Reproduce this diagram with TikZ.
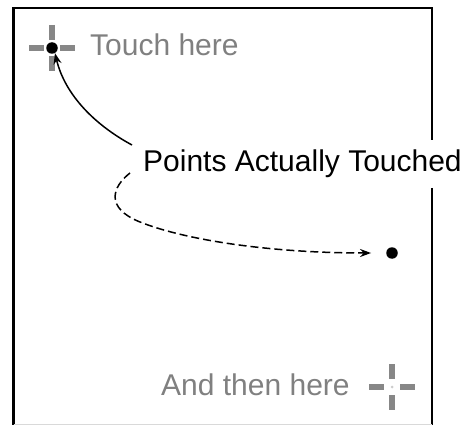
\documentclass[tikz,border=0pt]{standalone}
\usepackage{fontspec}
\setmainfont{Liberation Sans}
\usetikzlibrary{arrows.meta}
\definecolor{crossgray}{RGB}{135,135,135}
\definecolor{labelgray}{RGB}{128,128,128}
\begin{document}
\begin{tikzpicture}[x=1pt,y=-1pt,
  frame/.style={line width=2.6pt,black},
  arm/.style={line width=6pt,crossgray},
  lbl/.style={anchor=base west,inner sep=0pt,font=\fontsize{30}{36}\selectfont},
  dot/.style={circle,fill=black,inner sep=0pt,minimum size=11.5pt},
  tip/.style={-{Stealth[length=11pt,width=8pt]},line width=1.5pt}]
\useasboundingbox (0,0) rectangle (469,425);
% frame
\draw[frame] (13.5,425) -- (13.5,8) -- (432,8) -- (432,140);
\draw[frame] (432,188) -- (432,425);
\draw[line width=1pt,black!15] (13.5,424) -- (432,424);
% crosshairs
\coordinate (c1) at (52,48);
\coordinate (c2) at (392,387);
\foreach \c in {c1,c2}{
  \draw[arm] ([xshift=-23pt]\c) -- ([xshift=-8pt]\c);
  \draw[arm] ([xshift=8pt]\c) -- ([xshift=23pt]\c);
  \draw[arm] ([yshift=23pt]\c) -- ([yshift=8pt]\c);
  \draw[arm] ([yshift=-8pt]\c) -- ([yshift=-23pt]\c);
}
\fill[black!20] (c2) circle (1.5pt);
% dots
\node[dot] (d1) at (c1) {};
\node[dot] (d2) at (392,253) {};
% labels
\node[lbl,text=labelgray] (t1) at (90,56) {Touch here};
\node[lbl,text=labelgray] (t2) at (161,395) {And then here};
\node[lbl,text=black] (pts) at (143,172) {Points Actually Touched};
% arrows
\coordinate (s1) at (132,145);
\coordinate (s2) at (130,173);
\draw[tip] (s1) .. controls (95,125) and (65,95) .. (d1.-60);
\draw[tip,dash pattern=on 8pt off 4pt,shorten >=15pt] (s2) .. controls (112,187) and (105,208) .. (140,222)
  .. controls (185,240) and (270,253) .. (d2.west);
\end{tikzpicture}
\end{document}
